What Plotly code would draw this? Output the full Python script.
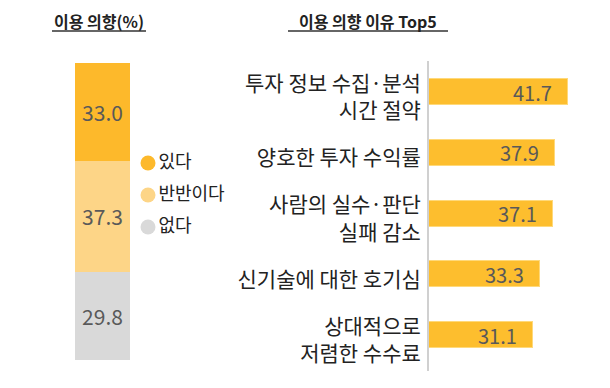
import plotly.graph_objects as go

# Left: stacked intention bar
intent_labels = ["없다", "반반이다", "있다"]          # bottom -> top stacking order
intent_values = [29.8, 37.3, 33.0]
intent_colors = ["#D9D9D9", "#FDD587", "#FDB92B"]
legend_order = ["있다", "반반이다", "없다"]

# Right: top-5 reasons
reasons = ["투자 정보 수집·분석<br>시간 절약", "양호한 투자 수익률", "사람의 실수·판단<br>실패 감소",
           "신기술에 대한 호기심", "상대적으로<br>저렴한 수수료"]
reason_values = [41.7, 37.9, 37.1, 33.3, 31.1]

FONT = "Noto Sans CJK KR"
OFF = 8                 # page body margin
W, H = 594, 372
NUM = "#595959"


def px(x):
    return (x - OFF) / W


def py(y):
    return 1 - (y - OFF) / H


fig = go.Figure()

for lab, val, col in zip(intent_labels, intent_values, intent_colors):
    fig.add_trace(go.Bar(
        x=["의향"], y=[val], marker=dict(color=col, line=dict(width=0)),
        text=[f"{val:.1f}"], textposition="inside", insidetextanchor="middle",
        textfont=dict(family=FONT, size=21, color=NUM),
        width=1, showlegend=False, xaxis="x", yaxis="y", hoverinfo="skip"))

col_map = dict(zip(intent_labels, intent_colors))
fig.add_trace(go.Scatter(
    x=[0] * len(legend_order), y=legend_order, mode="markers+text",
    text=legend_order, textposition="middle right",
    textfont=dict(family=FONT, size=18, color="#222222"),
    marker=dict(symbol="circle", size=15, color=[col_map[l] for l in legend_order]),
    xaxis="x3", yaxis="y3", showlegend=False, cliponaxis=False, hoverinfo="skip"))

fig.add_trace(go.Bar(
    y=reasons, x=reason_values, orientation="h",
    marker=dict(color="#FDBE2E", line=dict(color="#FFD97A", width=1)),
    width=0.43, showlegend=False, xaxis="x2", yaxis="y2", hoverinfo="skip"))

for r, v in zip(reasons, reason_values):
    fig.add_annotation(x=v, y=r, xref="x2", yref="y2", text=f"{v:.1f}",
                       xanchor="right", yanchor="middle", xshift=-14, showarrow=False,
                       font=dict(family=FONT, size=20, color=NUM))

# Titles
titles = [("이용 의향(%)", 99, 94), ("이용 의향 이유 Top5", 368, 160)]
for txt, cx, wd in titles:
    fig.add_annotation(x=px(cx), y=py(21), xref="paper", yref="paper", text=f"<b>{txt}</b>",
                       xanchor="center", yanchor="middle", showarrow=False, borderpad=0,
                       font=dict(family=FONT, size=16, color="#222222"))
    fig.add_shape(type="line", xref="paper", yref="paper",
                  x0=px(cx - wd / 2), x1=px(cx + wd / 2), y0=py(31), y1=py(31),
                  line=dict(color="#333333", width=1.5))

px_per = 3.33
x2_start = 429
x2_range = (W + OFF - x2_start) / px_per

fig.update_layout(
    width=W, height=H, margin=dict(l=0, r=0, t=0, b=0),
    paper_bgcolor="white", plot_bgcolor="white",
    barmode="stack", bargap=0, showlegend=False,
    font=dict(family=FONT, color="#222222"),
    xaxis=dict(domain=[px(75), px(130)], showticklabels=False, showgrid=False, zeroline=False,
               showline=False),
    yaxis=dict(domain=[py(360), py(62.5)], range=[0, 100], showticklabels=False,
               showgrid=False, zeroline=False, showline=False),
    xaxis3=dict(domain=[px(148), px(250)], range=[0, 1], visible=False, anchor="y3"),
    yaxis3=dict(domain=[py(243), py(147)], range=[2.5, -0.5], visible=False, anchor="x3"),
    xaxis2=dict(domain=[px(x2_start), 1], range=[0, x2_range], showticklabels=False,
                showgrid=False, zeroline=False, showline=False, anchor="y2"),
    yaxis2=dict(domain=[py(371), py(61)], anchor="x2", range=[4.59, -0.51],
                showline=True, linecolor="#D0D0D0", linewidth=2, ticks="", ticklabelstandoff=2,
                ticklabelshift=-5,
                tickfont=dict(family=FONT, size=21, color="#222222"), showgrid=False),
)

fig.write_html("out.html")
